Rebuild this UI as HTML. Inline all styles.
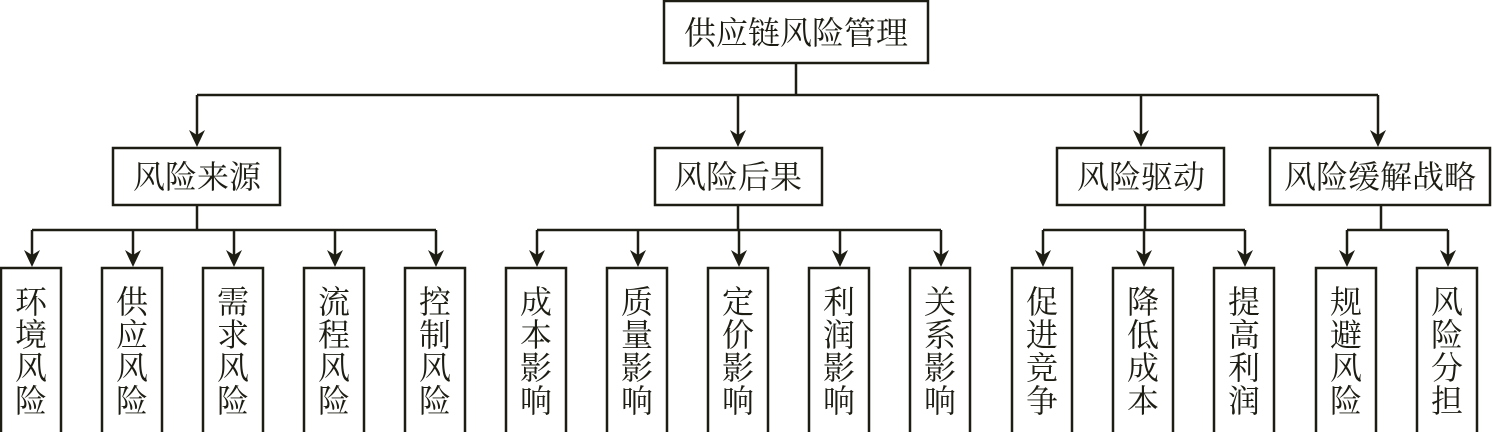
<!DOCTYPE html><html><head><meta charset="utf-8"><style>
body{margin:0;background:#fff;}
svg text{font-family:"Liberation Serif","Noto Serif CJK SC",serif;fill:#1e1d14;}
</style></head><body>
<svg width="1492" height="432" viewBox="0 0 1492 432" xmlns="http://www.w3.org/2000/svg">
<g stroke="#1e1d14" stroke-width="2.5" fill="none">
<rect x="664" y="1" width="264" height="62"/>
<path d="M796 63V95M197 95H1378"/>
<path d="M197 95V135"/><path d="M738 95V135"/><path d="M1141 95V135"/><path d="M1378 95V135"/>
<rect x="113" y="148" width="167" height="57"/>
<rect x="655" y="148" width="167" height="57"/>
<rect x="1057" y="148" width="167" height="57"/>
<rect x="1270" y="148" width="220" height="57"/>
<path d="M197 205V230M32 230H436M738 205V230M537 230H941M1145 205V230M1043 230H1245M1381 205V230M1347 230H1448"/>
<path d="M32 230V255"/><path d="M133 230V255"/><path d="M234 230V255"/><path d="M335 230V255"/><path d="M436 230V255"/>
<path d="M537 230V255"/><path d="M638 230V255"/><path d="M739 230V255"/><path d="M840 230V255"/><path d="M941 230V255"/>
<path d="M1043 230V255"/><path d="M1144 230V255"/><path d="M1245 230V255"/><path d="M1347 230V255"/><path d="M1448 230V255"/>
<rect x="1" y="268" width="60" height="166"/><rect x="102" y="268" width="60" height="166"/><rect x="203" y="268" width="60" height="166"/><rect x="304" y="268" width="60" height="166"/><rect x="405" y="268" width="60" height="166"/>
<rect x="506" y="268" width="60" height="166"/><rect x="607" y="268" width="60" height="166"/><rect x="708" y="268" width="60" height="166"/><rect x="809" y="268" width="60" height="166"/><rect x="910" y="268" width="60" height="166"/>
<rect x="1012" y="268" width="60" height="166"/><rect x="1113" y="268" width="60" height="166"/><rect x="1214" y="268" width="60" height="166"/><rect x="1316" y="268" width="60" height="166"/><rect x="1417" y="268" width="60" height="166"/>
</g>
<g fill="#1e1d14">
<path d="M189 130L197 135L205 130L197 147Z"/><path d="M730 130L738 135L746 130L738 147Z"/><path d="M1133 130L1141 135L1149 130L1141 147Z"/><path d="M1370 130L1378 135L1386 130L1378 147Z"/>
<path d="M24 250L32 255L40 250L32 267Z"/><path d="M125 250L133 255L141 250L133 267Z"/><path d="M226 250L234 255L242 250L234 267Z"/><path d="M327 250L335 255L343 250L335 267Z"/><path d="M428 250L436 255L444 250L436 267Z"/>
<path d="M529 250L537 255L545 250L537 267Z"/><path d="M630 250L638 255L646 250L638 267Z"/><path d="M731 250L739 255L747 250L739 267Z"/><path d="M832 250L840 255L848 250L840 267Z"/><path d="M933 250L941 255L949 250L941 267Z"/>
<path d="M1035 250L1043 255L1051 250L1043 267Z"/><path d="M1136 250L1144 255L1152 250L1144 267Z"/><path d="M1237 250L1245 255L1253 250L1245 267Z"/><path d="M1339 250L1347 255L1355 250L1347 267Z"/><path d="M1440 250L1448 255L1456 250L1448 267Z"/>
</g>
<g font-size="32" text-anchor="middle">
<text x="796" y="44">供应链风险管理</text>
<text x="197" y="188">风险来源</text>
<text x="738" y="188">风险后果</text>
<text x="1141" y="188">风险驱动</text>
<text x="1380" y="188">风险缓解战略</text>
</g>
<g font-size="32" text-anchor="middle">
<text x="31" y="313">环</text><text x="31" y="346">境</text><text x="31" y="379">风</text><text x="31" y="412">险</text>
<text x="132" y="313">供</text><text x="132" y="346">应</text><text x="132" y="379">风</text><text x="132" y="412">险</text>
<text x="233" y="313">需</text><text x="233" y="346">求</text><text x="233" y="379">风</text><text x="233" y="412">险</text>
<text x="334" y="313">流</text><text x="334" y="346">程</text><text x="334" y="379">风</text><text x="334" y="412">险</text>
<text x="435" y="313">控</text><text x="435" y="346">制</text><text x="435" y="379">风</text><text x="435" y="412">险</text>
<text x="536" y="313">成</text><text x="536" y="346">本</text><text x="536" y="379">影</text><text x="536" y="412">响</text>
<text x="637" y="313">质</text><text x="637" y="346">量</text><text x="637" y="379">影</text><text x="637" y="412">响</text>
<text x="738" y="313">定</text><text x="738" y="346">价</text><text x="738" y="379">影</text><text x="738" y="412">响</text>
<text x="839" y="313">利</text><text x="839" y="346">润</text><text x="839" y="379">影</text><text x="839" y="412">响</text>
<text x="940" y="313">关</text><text x="940" y="346">系</text><text x="940" y="379">影</text><text x="940" y="412">响</text>
<text x="1042" y="313">促</text><text x="1042" y="346">进</text><text x="1042" y="379">竞</text><text x="1042" y="412">争</text>
<text x="1143" y="313">降</text><text x="1143" y="346">低</text><text x="1143" y="379">成</text><text x="1143" y="412">本</text>
<text x="1244" y="313">提</text><text x="1244" y="346">高</text><text x="1244" y="379">利</text><text x="1244" y="412">润</text>
<text x="1346" y="313">规</text><text x="1346" y="346">避</text><text x="1346" y="379">风</text><text x="1346" y="412">险</text>
<text x="1447" y="313">风</text><text x="1447" y="346">险</text><text x="1447" y="379">分</text><text x="1447" y="412">担</text>
</g>
</svg>
</body></html>
